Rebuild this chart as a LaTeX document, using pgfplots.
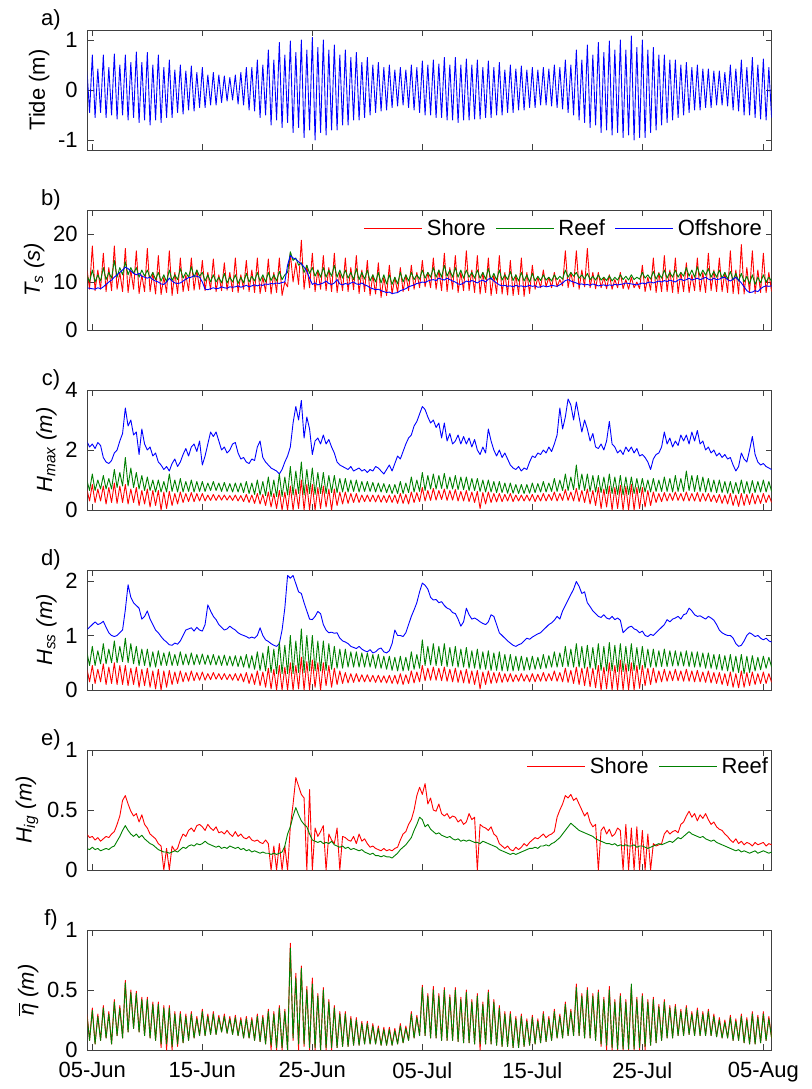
\documentclass[border=0pt]{standalone}
\usepackage{fontspec}
\setmainfont{Liberation Sans}
\usepackage{pgfplots}
\usepackage{pgfplotstable}
\pgfplotsset{compat=1.18}
\definecolor{mred}{rgb}{1,0,0}
\definecolor{mgreen}{rgb}{0,0.5,0}
\definecolor{mblue}{rgb}{0,0,1}
\newcommand{\fs}{\fontsize{11}{13}\selectfont}

% tide (m), 4 samples per day, t in days from 05-Jun
\pgfplotstableread[row sep=\\]{t y\\
-0.5 0.45\\ -0.25 -0.45\\
0 0.7\\ 0.25 -0.55\\ 0.5 0.42\\ 0.75 -0.45\\
1 0.7\\ 1.25 -0.55\\ 1.5 0.45\\ 1.75 -0.5\\
2 0.72\\ 2.25 -0.58\\ 2.5 0.5\\ 2.75 -0.5\\
3 0.7\\ 3.25 -0.6\\ 3.5 0.55\\ 3.75 -0.55\\
4 0.76\\ 4.25 -0.65\\ 4.5 0.55\\ 4.75 -0.6\\
5 0.75\\ 5.25 -0.7\\ 5.5 0.5\\ 5.75 -0.6\\
6 0.7\\ 6.25 -0.65\\ 6.5 0.45\\ 6.75 -0.55\\
7 0.6\\ 7.25 -0.55\\ 7.5 0.4\\ 7.75 -0.45\\
8 0.5\\ 8.25 -0.48\\ 8.5 0.38\\ 8.75 -0.4\\
9 0.48\\ 9.25 -0.42\\ 9.5 0.35\\ 9.75 -0.35\\
10 0.45\\ 10.25 -0.35\\ 10.5 0.3\\ 10.75 -0.3\\
11 0.35\\ 11.25 -0.3\\ 11.5 0.3\\ 11.75 -0.25\\
12 0.28\\ 12.25 -0.22\\ 12.5 0.25\\ 12.75 -0.2\\
13 0.3\\ 13.25 -0.28\\ 13.5 0.35\\ 13.75 -0.3\\
14 0.45\\ 14.25 -0.4\\ 14.5 0.45\\ 14.75 -0.42\\
15 0.6\\ 15.25 -0.55\\ 15.5 0.5\\ 15.75 -0.5\\
16 0.8\\ 16.25 -0.7\\ 16.5 0.6\\ 16.75 -0.6\\
17 0.95\\ 17.25 -0.75\\ 17.5 0.7\\ 17.75 -0.65\\
18 0.98\\ 18.25 -0.85\\ 18.5 0.75\\ 18.75 -0.75\\
19 1.0\\ 19.25 -0.95\\ 19.5 0.8\\ 19.75 -0.8\\
20 1.05\\ 20.25 -1.0\\ 20.5 0.85\\ 20.75 -0.85\\
21 1.0\\ 21.25 -0.9\\ 21.5 0.8\\ 21.75 -0.8\\
22 0.9\\ 22.25 -0.8\\ 22.5 0.7\\ 22.75 -0.7\\
23 0.8\\ 23.25 -0.7\\ 23.5 0.65\\ 23.75 -0.6\\
24 0.75\\ 24.25 -0.6\\ 24.5 0.55\\ 24.75 -0.55\\
25 0.65\\ 25.25 -0.5\\ 25.5 0.5\\ 25.75 -0.45\\
26 0.55\\ 26.25 -0.42\\ 26.5 0.45\\ 26.75 -0.4\\
27 0.5\\ 27.25 -0.35\\ 27.5 0.4\\ 27.75 -0.32\\
28 0.45\\ 28.25 -0.3\\ 28.5 0.4\\ 28.75 -0.35\\
29 0.5\\ 29.25 -0.4\\ 29.5 0.45\\ 29.75 -0.45\\
30 0.58\\ 30.25 -0.5\\ 30.5 0.5\\ 30.75 -0.5\\
31 0.6\\ 31.25 -0.55\\ 31.5 0.52\\ 31.75 -0.55\\
32 0.65\\ 32.25 -0.6\\ 32.5 0.5\\ 32.75 -0.6\\
33 0.65\\ 33.25 -0.65\\ 33.5 0.5\\ 33.75 -0.6\\
34 0.62\\ 34.25 -0.6\\ 34.5 0.5\\ 34.75 -0.58\\
35 0.6\\ 35.25 -0.58\\ 35.5 0.45\\ 35.75 -0.55\\
36 0.58\\ 36.25 -0.55\\ 36.5 0.45\\ 36.75 -0.5\\
37 0.55\\ 37.25 -0.5\\ 37.5 0.4\\ 37.75 -0.45\\
38 0.5\\ 38.25 -0.45\\ 38.5 0.42\\ 38.75 -0.4\\
39 0.48\\ 39.25 -0.4\\ 39.5 0.4\\ 39.75 -0.35\\
40 0.45\\ 40.25 -0.35\\ 40.5 0.4\\ 40.75 -0.3\\
41 0.45\\ 41.25 -0.3\\ 41.5 0.42\\ 41.75 -0.32\\
42 0.5\\ 42.25 -0.35\\ 42.5 0.45\\ 42.75 -0.38\\
43 0.6\\ 43.25 -0.45\\ 43.5 0.5\\ 43.75 -0.5\\
44 0.8\\ 44.25 -0.6\\ 44.5 0.6\\ 44.75 -0.65\\
45 0.9\\ 45.25 -0.75\\ 45.5 0.7\\ 45.75 -0.7\\
46 0.95\\ 46.25 -0.85\\ 46.5 0.75\\ 46.75 -0.8\\
47 0.98\\ 47.25 -0.9\\ 47.5 0.8\\ 47.75 -0.85\\
48 1.0\\ 48.25 -0.95\\ 48.5 0.8\\ 48.75 -0.9\\
49 1.08\\ 49.25 -1.0\\ 49.5 0.85\\ 49.75 -0.95\\
50 1.0\\ 50.25 -0.95\\ 50.5 0.8\\ 50.75 -0.85\\
51 0.85\\ 51.25 -0.8\\ 51.5 0.7\\ 51.75 -0.7\\
52 0.7\\ 52.25 -0.65\\ 52.5 0.6\\ 52.75 -0.6\\
53 0.6\\ 53.25 -0.55\\ 53.5 0.5\\ 53.75 -0.5\\
54 0.55\\ 54.25 -0.45\\ 54.5 0.45\\ 54.75 -0.4\\
55 0.5\\ 55.25 -0.4\\ 55.5 0.42\\ 55.75 -0.35\\
56 0.42\\ 56.25 -0.35\\ 56.5 0.38\\ 56.75 -0.3\\
57 0.38\\ 57.25 -0.3\\ 57.5 0.35\\ 57.75 -0.32\\
58 0.5\\ 58.25 -0.4\\ 58.5 0.42\\ 58.75 -0.42\\
59 0.6\\ 59.25 -0.5\\ 59.5 0.45\\ 59.75 -0.5\\
60 0.65\\ 60.25 -0.55\\ 60.5 0.5\\ 60.75 -0.58\\
61 0.62\\ 61.25 -0.6\\ 61.5 0.45\\ 61.75 -0.55\\
}\tabA

% Ts (s): shore, reef, offshore
\pgfplotstableread[row sep=\\]{t S R O\\
-0.5 13 11.5 8.8\\ -0.25 8.5 10 8.7\\
0 17.5 12.5 8.6\\ 0.25 8.2 10 8.5\\ 0.5 12.5 11.5 8.8\\ 0.75 8.5 10.2 8.6\\
1 16 13 9.0\\ 1.25 8 10.5 9.5\\ 1.5 13 12 10.0\\ 1.75 8.2 10.8 10.4\\
2 17.5 14.5 11.0\\ 2.25 8.5 11 11.5\\ 2.5 12 13 12.0\\ 2.75 8 11.5 12.5\\
3 17 14.2 13.1\\ 3.25 7.8 11.5 12.8\\ 3.5 12.5 13 12.3\\ 3.75 8.5 11.8 11.8\\
4 16.5 13 11.5\\ 4.25 7.6 11 11.8\\ 4.5 11.5 12.5 11.2\\ 4.75 8 11.2 11.0\\
5 17 12.5 10.8\\ 5.25 8 10.8 11.0\\ 5.5 12 12 10.5\\ 5.75 7.5 10.5 10.2\\
6 15.5 12 10.0\\ 6.25 7.4 10.2 9.6\\ 6.5 11 11.5 9.5\\ 6.75 7.8 10 10.0\\
7 16.5 12.5 10.8\\ 7.25 7.2 10.3 10.2\\ 7.5 12 11.5 9.8\\ 7.75 7.6 10.5 9.7\\
8 15 12.8 9.8\\ 8.25 8 10.8 10.2\\ 8.5 11.5 12 10.6\\ 8.75 8.2 11 10.9\\
9 15 13.2 11.0\\ 9.25 8.3 11 11.3\\ 9.5 12.5 12.5 11.2\\ 9.75 8.5 11.2 11.0\\
10 14.5 12 10.0\\ 10.25 8.2 10.2 8.5\\ 10.5 12 11.5 8.4\\ 10.75 8.4 10 8.6\\
11 14.8 11.5 8.8\\ 11.25 8 10 8.6\\ 11.5 11.5 11 8.7\\ 11.75 8.2 9.8 9.0\\
12 14 11.8 8.8\\ 12.25 8.3 9.8 8.7\\ 12.5 12 11 9.0\\ 12.75 8 10 8.9\\
13 15 11.5 9.0\\ 13.25 7.8 9.7 9.2\\ 13.5 11.5 11 8.9\\ 13.75 8.5 9.8 9.1\\
14 14.5 11.8 9.3\\ 14.25 8 10 9.0\\ 14.5 12.5 11.2 9.2\\ 14.75 7.8 10.2 9.4\\
15 15 12 9.2\\ 15.25 7.6 10.2 9.4\\ 15.5 11 11.5 9.3\\ 15.75 8 10 9.6\\
16 14.8 12 9.5\\ 16.25 7.5 10.3 9.7\\ 16.5 12 11.5 9.6\\ 16.75 7.8 10.2 9.8\\
17 15 12.2 9.7\\ 17.25 7.2 10.5 9.9\\ 17.5 10 11.5 10.0\\ 17.75 9 12 13.5\\
18 16 16.3 15.5\\ 18.25 10 14.5 15.0\\ 18.5 14 15 14.8\\ 18.75 9.5 13.5 14.2\\
19 18.7 14 13.8\\ 19.25 8.5 12 13.1\\ 19.5 13.5 13.5 12.2\\ 19.75 8.8 11.8 10.8\\
20 16 13 9.5\\ 20.25 8 11.2 9.8\\ 20.5 12.5 12.5 9.4\\ 20.75 8.5 11 9.6\\
21 15.5 13 9.8\\ 21.25 8.2 11 10.2\\ 21.5 13 12.5 9.7\\ 21.75 8 11.2 9.5\\
22 16 13.5 9.8\\ 22.25 7.8 11 10.5\\ 22.5 12 12.5 9.6\\ 22.75 8.2 10.8 9.4\\
23 15 12.5 9.7\\ 23.25 8 10.8 9.5\\ 23.5 13 12 9.8\\ 23.75 8.4 10.5 10.0\\
24 15.5 12.8 9.6\\ 24.25 7.6 10.5 9.5\\ 24.5 12.5 12 9.8\\ 24.75 8 10.6 9.4\\
25 14.5 12.5 9.2\\ 25.25 7.2 10.2 8.8\\ 25.5 11.5 11.5 8.6\\ 25.75 7.5 10 8.4\\
26 14 12 8.5\\ 26.25 6.8 9.8 8.2\\ 26.5 11 11.5 8.0\\ 26.75 7.2 9.6 7.8\\
27 13.5 11.5 7.9\\ 27.25 7.5 9.5 7.6\\ 27.5 11 11 7.7\\ 27.75 7.8 9.6 7.8\\
28 13 12 8.2\\ 28.25 8 10 8.4\\ 28.5 11.5 11.5 8.6\\ 28.75 8.2 10.2 9.0\\
29 13.5 12 9.2\\ 29.25 8.5 10.5 9.4\\ 29.5 12 11.5 9.7\\ 29.75 8.8 10.6 9.8\\
30 14.5 12.5 10.0\\ 30.25 9 10.8 9.9\\ 30.5 12 12 10.2\\ 30.75 8.8 11 10.4\\
31 15 13 10.5\\ 31.25 8.5 11 10.3\\ 31.5 12.5 12.5 10.8\\ 31.75 8.2 11 10.6\\
32 16 13.5 10.4\\ 32.25 8 11.2 10.8\\ 32.5 13 12.5 10.5\\ 32.75 8.5 11 10.2\\
33 15.5 13 10.0\\ 33.25 7.8 11 9.6\\ 33.5 12 12.5 9.5\\ 33.75 8.2 10.8 9.8\\
34 16.5 12.5 10.2\\ 34.25 8.2 11 10.0\\ 34.5 12.5 12 10.3\\ 34.75 7.8 10.8 10.1\\
35 15.5 12.5 9.8\\ 35.25 7.5 10.8 10.2\\ 35.5 12 12 10.4\\ 35.75 7.8 10.6 10.0\\
36 15 12.8 10.6\\ 36.25 7.2 10.5 10.8\\ 36.5 11.5 11.8 10.2\\ 36.75 7.6 10.4 9.8\\
37 15.5 12.5 9.4\\ 37.25 7.5 10.4 9.2\\ 37.5 12 11.5 9.3\\ 37.75 7.3 10.5 9.1\\
38 14.5 12.2 9.2\\ 38.25 7.2 10.3 9.0\\ 38.5 11.5 11.5 9.3\\ 38.75 7.4 10.2 9.1\\
39 15 12 9.2\\ 39.25 7 10.2 9.0\\ 39.5 12 11.5 9.1\\ 39.75 7.6 10 9.3\\
40 13.5 11.8 9.1\\ 40.25 8.5 10.2 9.2\\ 40.5 11 11.2 8.9\\ 40.75 8.8 10.3 9.0\\
41 12.5 11.5 9.2\\ 41.25 9 10.4 9.0\\ 41.5 11 11 9.1\\ 41.75 8.8 10.2 9.3\\
42 12 11.5 9.2\\ 42.25 9 10.5 9.1\\ 42.5 10.5 11.2 9.4\\ 42.75 9.2 10.6 9.8\\
43 16.5 12.5 10.3\\ 43.25 8.8 11 10.5\\ 43.5 12 12 10.2\\ 43.75 9 11.2 10.0\\
44 16.5 12 9.8\\ 44.25 8.5 10.8 9.5\\ 44.5 12.5 11.5 9.6\\ 44.75 9 10.6 9.4\\
45 17 11.8 9.5\\ 45.25 8.8 10.5 9.3\\ 45.5 12 11.2 9.6\\ 45.75 8.6 10.4 9.4\\
46 12 11.5 9.2\\ 46.25 8.8 10.4 9.3\\ 46.5 11 11 9.4\\ 46.75 8.6 10.3 9.2\\
47 11.5 11.3 9.4\\ 47.25 8.5 10.2 9.3\\ 47.5 10.5 11 9.5\\ 47.75 8.8 10.4 9.4\\
48 12 11.5 9.5\\ 48.25 8.6 10.5 9.6\\ 48.5 10.5 11.2 9.8\\ 48.75 8.5 10.4 9.7\\
49 11 11.5 9.6\\ 49.25 8.8 10.5 9.5\\ 49.5 10 11 9.4\\ 49.75 8.6 10.6 9.6\\
50 13.5 12 9.8\\ 50.25 8 10.8 9.6\\ 50.5 11 11.5 9.9\\ 50.75 8.3 10.6 10.0\\
51 15 12.2 9.8\\ 51.25 7.8 10.6 10.0\\ 51.5 12 11.8 10.2\\ 51.75 8 10.8 10.0\\
52 15.5 12.5 10.3\\ 52.25 8 10.8 10.1\\ 52.5 12.5 12 10.4\\ 52.75 7.8 11 10.2\\
53 15 12.5 10.0\\ 53.25 7.6 11 10.4\\ 53.5 12 12 10.6\\ 53.75 8 11.2 10.3\\
54 14 13 10.5\\ 54.25 7.8 11.2 10.8\\ 54.5 11.5 12.5 10.4\\ 54.75 8.2 11 10.6\\
55 15 13.2 10.8\\ 55.25 8 11.2 10.5\\ 55.5 12 12.5 10.7\\ 55.75 7.8 11.4 11.0\\
56 16 12.8 10.6\\ 56.25 8.2 11 10.4\\ 56.5 12.5 12.2 10.8\\ 56.75 8 11 10.5\\
57 15 12.5 10.6\\ 57.25 8 10.8 10.9\\ 57.5 12 12 11.0\\ 57.75 7.8 10.6 10.5\\
58 16.5 12.2 10.2\\ 58.25 7.6 10.4 10.6\\ 58.5 12.5 11.8 11.0\\ 58.75 7.5 10.2 10.4\\
59 17.8 11.8 9.8\\ 59.25 7.5 10 9.0\\ 59.5 13 11.2 8.2\\ 59.75 7.8 9.6 7.8\\
60 16.5 11.5 7.9\\ 60.25 7.6 9.5 8.2\\ 60.5 12.5 11 8.0\\ 60.75 7.8 9.8 8.6\\
61 16 11.5 9.0\\ 61.25 7.8 10 9.2\\ 61.5 12 11 9.1\\ 61.75 8 10.2 9.2\\
}\tabB

% Hmax (m): shore, reef, offshore
\pgfplotstableread[row sep=\\]{t S R O\\
-0.5 0.7 1.0 2.3\\ -0.25 0.3 0.65 2.1\\
0 0.85 1.2 2.2\\ 0.25 0.25 0.65 2.05\\ 0.5 0.7 1.0 2.25\\ 0.75 0.3 0.7 2.15\\
1 0.8 1.15 1.75\\ 1.25 0.2 0.7 1.6\\ 1.5 0.75 1.05 1.55\\ 1.75 0.25 0.7 1.65\\
2 0.9 1.35 1.9\\ 2.25 0.22 0.75 2.0\\ 2.5 0.8 1.25 2.3\\ 2.75 0.25 0.8 2.55\\
3 0.85 1.75 3.4\\ 3.25 0.2 0.8 2.8\\ 3.5 0.7 1.4 3.0\\ 3.75 0.25 0.75 2.5\\
4 0.75 1.25 2.6\\ 4.25 0.15 0.7 1.85\\ 4.5 0.65 1.15 2.7\\ 4.75 0.2 0.65 2.2\\
5 0.7 1.1 2.0\\ 5.25 0.1 0.65 2.1\\ 5.5 0.65 1.0 1.8\\ 5.75 0.15 0.6 1.9\\
6 0.65 1.0 1.6\\ 6.25 0 0.6 1.5\\ 6.5 0.6 0.95 1.35\\ 6.75 0.05 0.6 1.45\\
7 0.62 1.2 1.3\\ 7.25 0.15 0.62 1.55\\ 7.5 0.55 1.0 1.7\\ 7.75 0.2 0.6 1.45\\
8 0.6 1.05 1.6\\ 8.25 0.25 0.6 1.85\\ 8.5 0.55 0.95 2.05\\ 8.75 0.28 0.62 1.8\\
9 0.58 1.0 2.1\\ 9.25 0.28 0.6 2.2\\ 9.5 0.55 0.95 1.95\\ 9.75 0.3 0.62 2.3\\
10 0.55 0.95 1.5\\ 10.25 0.3 0.62 1.8\\ 10.5 0.5 0.9 2.2\\ 10.75 0.32 0.65 2.6\\
11 0.52 0.95 2.45\\ 11.25 0.32 0.65 2.6\\ 11.5 0.5 0.9 2.3\\ 11.75 0.33 0.62 2.0\\
12 0.5 0.92 2.1\\ 12.25 0.33 0.62 1.9\\ 12.5 0.48 0.88 2.0\\ 12.75 0.32 0.6 2.2\\
13 0.5 0.9 2.25\\ 13.25 0.3 0.6 1.9\\ 13.5 0.48 0.9 1.7\\ 13.75 0.28 0.58 1.75\\
14 0.52 0.95 1.6\\ 14.25 0.25 0.55 1.55\\ 14.5 0.5 0.9 1.7\\ 14.75 0.22 0.52 1.65\\
15 0.55 1.0 2.1\\ 15.25 0.2 0.5 2.3\\ 15.5 0.52 0.95 1.75\\ 15.75 0.15 0.48 1.6\\
16 0.6 1.1 1.5\\ 16.25 0.1 0.45 1.4\\ 16.5 0.55 1.0 1.35\\ 16.75 0.05 0.45 1.3\\
17 0.65 1.2 1.2\\ 17.25 0 0.45 1.35\\ 17.5 0.6 1.1 1.6\\ 17.75 0 0.5 1.8\\
18 0.8 1.45 2.1\\ 18.25 0 0.5 2.9\\ 18.5 0.7 1.3 3.45\\ 18.75 0.05 0.55 3.0\\
19 1.0 1.6 3.65\\ 19.25 0 0.5 2.4\\ 19.5 0.85 1.35 3.1\\ 19.75 0 0.55 2.7\\
20 0.85 1.4 1.85\\ 20.25 0 0.52 2.3\\ 20.5 0.75 1.25 2.4\\ 20.75 0.05 0.55 2.2\\
21 0.8 1.25 2.5\\ 21.25 0.1 0.55 2.2\\ 21.5 0.7 1.15 2.35\\ 21.75 0 0.58 2.1\\
22 0.7 1.15 1.9\\ 22.25 0.15 0.58 1.6\\ 22.5 0.6 1.05 1.5\\ 22.75 0.2 0.6 1.45\\
23 0.6 1.05 1.4\\ 23.25 0.22 0.6 1.35\\ 23.5 0.55 1.0 1.45\\ 23.75 0.25 0.62 1.3\\
24 0.55 1.0 1.35\\ 24.25 0.25 0.6 1.4\\ 24.5 0.5 0.95 1.3\\ 24.75 0.28 0.62 1.35\\
25 0.5 0.95 1.25\\ 25.25 0.28 0.62 1.35\\ 25.5 0.5 0.92 1.3\\ 25.75 0.27 0.6 1.45\\
26 0.5 0.9 1.4\\ 26.25 0.26 0.6 1.3\\ 26.5 0.48 0.88 1.2\\ 26.75 0.25 0.58 1.35\\
27 0.5 0.85 1.5\\ 27.25 0.25 0.55 1.3\\ 27.5 0.5 0.85 1.55\\ 27.75 0.22 0.55 1.8\\
28 0.55 0.95 1.7\\ 28.25 0.22 0.55 1.95\\ 28.5 0.52 0.9 2.2\\ 28.75 0.2 0.58 2.4\\
29 0.6 1.1 2.5\\ 29.25 0.25 0.6 2.8\\ 29.5 0.58 1.0 2.95\\ 29.75 0.28 0.62 3.2\\
30 0.75 1.25 3.45\\ 30.25 0.3 0.65 3.35\\ 30.5 0.65 1.15 3.1\\ 30.75 0.32 0.7 2.9\\
31 0.72 1.2 3.0\\ 31.25 0.33 0.7 2.75\\ 31.5 0.65 1.15 2.9\\ 31.75 0.35 0.72 2.4\\
32 0.7 1.22 2.9\\ 32.25 0.32 0.7 2.3\\ 32.5 0.65 1.1 2.55\\ 32.75 0.33 0.7 2.2\\
33 0.68 1.15 2.3\\ 33.25 0.3 0.68 2.5\\ 33.5 0.62 1.1 2.2\\ 33.75 0.3 0.68 2.45\\
34 0.65 1.1 2.2\\ 34.25 0.28 0.65 2.4\\ 34.5 0.6 1.05 2.1\\ 34.75 0.25 0.65 2.35\\
35 0.62 1.05 2.0\\ 35.25 0.05 0.62 1.85\\ 35.5 0.58 1.0 2.1\\ 35.75 0.2 0.6 1.9\\
36 0.6 1.0 2.7\\ 36.25 0.25 0.6 2.3\\ 36.5 0.55 0.95 2.0\\ 36.75 0.27 0.58 1.8\\
37 0.55 0.95 2.0\\ 37.25 0.28 0.58 1.75\\ 37.5 0.52 0.9 1.9\\ 37.75 0.3 0.56 1.7\\
38 0.55 0.9 1.5\\ 38.25 0.28 0.56 1.4\\ 38.5 0.5 0.85 1.35\\ 38.75 0.3 0.55 1.45\\
39 0.5 0.85 1.3\\ 39.25 0.3 0.55 1.4\\ 39.5 0.5 0.85 1.35\\ 39.75 0.3 0.56 1.6\\
40 0.52 0.9 1.8\\ 40.25 0.28 0.58 1.75\\ 40.5 0.5 0.88 1.9\\ 40.75 0.3 0.6 1.85\\
41 0.55 0.95 2.0\\ 41.25 0.3 0.6 1.9\\ 41.5 0.52 0.9 2.1\\ 41.75 0.32 0.62 1.95\\
42 0.6 1.05 2.2\\ 42.25 0.3 0.62 2.5\\ 42.5 0.55 1.0 3.4\\ 42.75 0.32 0.65 2.7\\
43 0.68 1.2 3.1\\ 43.25 0.32 0.65 3.7\\ 43.5 0.6 1.1 3.5\\ 43.75 0.3 0.68 3.0\\
44 0.72 1.5 3.6\\ 44.25 0.28 0.68 3.1\\ 44.5 0.65 1.2 2.6\\ 44.75 0.25 0.65 3.0\\
45 0.7 1.2 2.7\\ 45.25 0.2 0.62 2.3\\ 45.5 0.65 1.15 2.55\\ 45.75 0.15 0.6 2.1\\
46 0.75 1.15 2.05\\ 46.25 0.05 0.58 2.2\\ 46.5 0.7 1.1 2.0\\ 46.75 0.1 0.55 2.3\\
47 0.8 1.2 2.95\\ 47.25 0 0.55 2.2\\ 47.5 0.75 1.1 2.1\\ 47.75 0.05 0.52 1.9\\
48 0.82 1.15 2.0\\ 48.25 0 0.5 1.85\\ 48.5 0.78 1.1 2.1\\ 48.75 0 0.52 1.95\\
49 0.85 1.1 2.1\\ 49.25 0 0.55 1.9\\ 49.5 0.75 1.05 2.05\\ 49.75 0.05 0.58 1.8\\
50 0.75 1.05 1.85\\ 50.25 0.1 0.6 1.75\\ 50.5 0.65 1.0 1.6\\ 50.75 0.15 0.6 1.35\\
51 0.6 1.05 1.7\\ 51.25 0.25 0.62 1.85\\ 51.5 0.55 1.0 1.9\\ 51.75 0.28 0.62 2.1\\
52 0.58 1.1 2.6\\ 52.25 0.3 0.62 2.2\\ 52.5 0.55 1.05 2.4\\ 52.75 0.32 0.6 2.1\\
53 0.6 1.15 2.3\\ 53.25 0.32 0.62 2.15\\ 53.5 0.55 1.05 2.5\\ 53.75 0.3 0.62 2.3\\
54 0.6 1.3 2.5\\ 54.25 0.3 0.65 2.2\\ 54.5 0.55 1.15 2.6\\ 54.75 0.3 0.62 2.3\\
55 0.58 1.15 2.65\\ 55.25 0.28 0.62 2.2\\ 55.5 0.55 1.1 2.3\\ 55.75 0.3 0.6 2.0\\
56 0.55 1.05 2.1\\ 56.25 0.28 0.6 1.9\\ 56.5 0.5 1.0 2.0\\ 56.75 0.25 0.58 1.8\\
57 0.52 1.0 1.9\\ 57.25 0.22 0.58 1.75\\ 57.5 0.5 0.95 1.85\\ 57.75 0.2 0.56 1.7\\
58 0.55 0.95 1.75\\ 58.25 0.15 0.55 1.5\\ 58.5 0.5 0.92 1.3\\ 58.75 0.12 0.55 1.45\\
59 0.55 1.0 1.9\\ 59.25 0.15 0.55 1.7\\ 59.5 0.52 0.95 1.6\\ 59.75 0.18 0.56 2.0\\
60 0.55 0.98 2.45\\ 60.25 0.2 0.58 1.85\\ 60.5 0.5 0.95 1.6\\ 60.75 0.22 0.6 1.5\\
61 0.55 1.0 1.55\\ 61.25 0.25 0.6 1.45\\ 61.5 0.5 0.95 1.4\\ 61.75 0.25 0.62 1.35\\
}\tabC

% Hss (m): shore, reef, offshore
\pgfplotstableread[row sep=\\]{t S R O\\
-0.5 0.4 0.7 1.1\\ -0.25 0.15 0.45 1.15\\
0 0.45 0.8 1.2\\ 0.25 0.12 0.45 1.25\\ 0.5 0.38 0.72 1.2\\ 0.75 0.15 0.48 1.22\\
1 0.48 0.85 1.26\\ 1.25 0.1 0.48 1.15\\ 1.5 0.42 0.75 1.05\\ 1.75 0.12 0.5 1.0\\
2 0.5 0.9 0.98\\ 2.25 0.1 0.5 1.0\\ 2.5 0.45 0.8 1.05\\ 2.75 0.1 0.52 1.1\\
3 0.45 0.95 1.47\\ 3.25 0.08 0.5 1.93\\ 3.5 0.4 0.85 1.7\\ 3.75 0.1 0.48 1.6\\
4 0.42 0.8 1.55\\ 4.25 0.05 0.45 1.5\\ 4.5 0.38 0.75 1.3\\ 4.75 0.08 0.45 1.35\\
5 0.4 0.75 1.45\\ 5.25 0.05 0.42 1.3\\ 5.5 0.35 0.7 1.2\\ 5.75 0.02 0.42 1.1\\
6 0.38 0.72 1.05\\ 6.25 0 0.45 0.98\\ 6.5 0.35 0.68 0.92\\ 6.75 0.05 0.45 0.88\\
7 0.36 0.7 0.83\\ 7.25 0.1 0.45 0.82\\ 7.5 0.33 0.65 0.86\\ 7.75 0.12 0.45 0.84\\
8 0.35 0.7 0.9\\ 8.25 0.15 0.46 1.0\\ 8.5 0.32 0.66 1.1\\ 8.75 0.16 0.46 1.12\\
9 0.35 0.68 1.14\\ 9.25 0.17 0.46 1.08\\ 9.5 0.32 0.65 1.15\\ 9.75 0.18 0.47 1.1\\
10 0.33 0.66 1.08\\ 10.25 0.18 0.47 1.2\\ 10.5 0.3 0.64 1.56\\ 10.75 0.19 0.46 1.45\\
11 0.32 0.65 1.35\\ 11.25 0.2 0.46 1.29\\ 11.5 0.3 0.63 1.2\\ 11.75 0.19 0.45 1.15\\
12 0.3 0.64 1.1\\ 12.25 0.19 0.45 1.12\\ 12.5 0.29 0.62 1.17\\ 12.75 0.18 0.44 1.13\\
13 0.3 0.63 1.1\\ 13.25 0.17 0.43 1.05\\ 13.5 0.3 0.62 1.02\\ 13.75 0.15 0.42 1.0\\
14 0.32 0.65 0.98\\ 14.25 0.12 0.4 0.95\\ 14.5 0.3 0.63 0.97\\ 14.75 0.1 0.38 0.95\\
15 0.35 0.7 1.0\\ 15.25 0.08 0.36 1.14\\ 15.5 0.33 0.68 1.0\\ 15.75 0.05 0.35 0.92\\
16 0.4 0.8 0.89\\ 16.25 0.02 0.32 0.85\\ 16.5 0.38 0.75 0.82\\ 16.75 0 0.3 0.8\\
17 0.45 0.88 0.85\\ 17.25 0 0.3 1.1\\ 17.5 0.42 0.82 1.5\\ 17.75 0 0.3 2.1\\
18 0.5 1.0 2.05\\ 18.25 0 0.3 2.1\\ 18.5 0.45 0.9 1.95\\ 18.75 0.02 0.32 1.8\\
19 0.6 1.12 1.77\\ 19.25 0 0.32 1.6\\ 19.5 0.52 1.0 1.45\\ 19.75 0 0.35 1.3\\
20 0.55 1.0 1.29\\ 20.25 0.05 0.35 1.35\\ 20.5 0.5 0.9 1.44\\ 20.75 0 0.35 1.4\\
21 0.5 0.9 1.2\\ 21.25 0.08 0.36 1.1\\ 21.5 0.45 0.85 1.05\\ 21.75 0.05 0.38 1.06\\
22 0.4 0.8 1.04\\ 22.25 0.1 0.4 1.05\\ 22.5 0.35 0.75 0.95\\ 22.75 0.12 0.4 0.9\\
23 0.32 0.75 0.88\\ 23.25 0.13 0.42 0.85\\ 23.5 0.3 0.7 0.8\\ 23.75 0.14 0.42 0.78\\
24 0.3 0.7 0.76\\ 24.25 0.15 0.42 0.8\\ 24.5 0.28 0.68 0.75\\ 24.75 0.15 0.42 0.72\\
25 0.28 0.68 0.7\\ 25.25 0.15 0.42 0.74\\ 25.5 0.27 0.65 0.68\\ 25.75 0.14 0.4 0.7\\
26 0.27 0.65 0.75\\ 26.25 0.14 0.4 0.77\\ 26.5 0.26 0.62 0.7\\ 26.75 0.13 0.38 0.68\\
27 0.27 0.62 0.72\\ 27.25 0.12 0.36 0.85\\ 27.5 0.27 0.6 1.1\\ 27.75 0.11 0.35 1.0\\
28 0.3 0.62 1.0\\ 28.25 0.1 0.35 0.98\\ 28.5 0.28 0.6 1.05\\ 28.75 0.12 0.36 1.2\\
29 0.35 0.7 1.35\\ 29.25 0.13 0.38 1.47\\ 29.5 0.33 0.65 1.6\\ 29.75 0.15 0.4 1.8\\
30 0.45 0.92 1.96\\ 30.25 0.17 0.45 1.92\\ 30.5 0.4 0.8 1.85\\ 30.75 0.18 0.46 1.7\\
31 0.42 0.85 1.65\\ 31.25 0.18 0.45 1.66\\ 31.5 0.4 0.8 1.6\\ 31.75 0.17 0.45 1.62\\
32 0.42 0.85 1.55\\ 32.25 0.16 0.43 1.5\\ 32.5 0.38 0.78 1.48\\ 32.75 0.15 0.44 1.42\\
33 0.4 0.8 1.4\\ 33.25 0.14 0.42 1.3\\ 33.5 0.36 0.75 1.17\\ 33.75 0.13 0.42 1.25\\
34 0.38 0.78 1.5\\ 34.25 0.12 0.4 1.38\\ 34.5 0.35 0.72 1.3\\ 34.75 0.1 0.4 1.32\\
35 0.36 0.75 1.29\\ 35.25 0.02 0.38 1.25\\ 35.5 0.33 0.7 1.22\\ 35.75 0.1 0.38 1.2\\
36 0.35 0.72 1.25\\ 36.25 0.12 0.36 1.38\\ 36.5 0.32 0.68 1.35\\ 36.75 0.13 0.36 1.2\\
37 0.32 0.7 1.05\\ 37.25 0.14 0.35 1.0\\ 37.5 0.3 0.65 0.95\\ 37.75 0.15 0.35 0.9\\
38 0.3 0.65 0.86\\ 38.25 0.15 0.35 0.82\\ 38.5 0.28 0.62 0.8\\ 38.75 0.16 0.36 0.83\\
39 0.3 0.62 0.85\\ 39.25 0.16 0.36 0.9\\ 39.5 0.28 0.6 0.95\\ 39.75 0.15 0.37 0.93\\
40 0.3 0.62 0.97\\ 40.25 0.15 0.38 1.0\\ 40.5 0.29 0.6 1.03\\ 40.75 0.16 0.39 1.05\\
41 0.32 0.65 1.1\\ 41.25 0.16 0.4 1.15\\ 41.5 0.3 0.63 1.2\\ 41.75 0.17 0.42 1.23\\
42 0.35 0.7 1.28\\ 42.25 0.16 0.42 1.35\\ 42.5 0.32 0.68 1.3\\ 42.75 0.15 0.43 1.45\\
43 0.4 0.8 1.55\\ 43.25 0.14 0.43 1.65\\ 43.5 0.36 0.75 1.75\\ 43.75 0.12 0.42 1.85\\
44 0.42 0.85 1.99\\ 44.25 0.1 0.42 1.9\\ 44.5 0.4 0.8 1.77\\ 44.75 0.08 0.4 1.8\\
45 0.42 0.82 1.6\\ 45.25 0.06 0.4 1.53\\ 45.5 0.4 0.78 1.45\\ 45.75 0.04 0.38 1.4\\
46 0.45 0.85 1.35\\ 46.25 0 0.36 1.33\\ 46.5 0.42 0.8 1.38\\ 46.75 0.02 0.35 1.32\\
47 0.5 0.87 1.3\\ 47.25 0 0.35 1.35\\ 47.5 0.45 0.82 1.29\\ 47.75 0 0.34 1.32\\
48 0.55 0.85 1.28\\ 48.25 0 0.34 1.05\\ 48.5 0.48 0.8 1.1\\ 48.75 0 0.35 1.15\\
49 0.5 0.85 1.17\\ 49.25 0 0.36 1.12\\ 49.5 0.45 0.78 1.1\\ 49.75 0.03 0.38 1.05\\
50 0.45 0.8 1.08\\ 50.25 0.08 0.4 1.0\\ 50.5 0.4 0.75 0.98\\ 50.75 0.1 0.42 1.02\\
51 0.4 0.75 1.0\\ 51.25 0.13 0.42 1.05\\ 51.5 0.35 0.72 1.1\\ 51.75 0.15 0.43 1.15\\
52 0.38 0.75 1.2\\ 52.25 0.16 0.43 1.29\\ 52.5 0.35 0.72 1.25\\ 52.75 0.17 0.44 1.3\\
53 0.38 0.72 1.32\\ 53.25 0.17 0.44 1.35\\ 53.5 0.35 0.7 1.3\\ 53.75 0.16 0.44 1.38\\
54 0.38 0.72 1.4\\ 54.25 0.16 0.43 1.5\\ 54.5 0.35 0.7 1.45\\ 54.75 0.15 0.42 1.38\\
55 0.36 0.7 1.35\\ 55.25 0.15 0.42 1.36\\ 55.5 0.33 0.68 1.33\\ 55.75 0.14 0.4 1.3\\
56 0.35 0.68 1.35\\ 56.25 0.13 0.4 1.32\\ 56.5 0.32 0.65 1.28\\ 56.75 0.12 0.38 1.2\\
57 0.32 0.65 1.1\\ 57.25 0.1 0.36 1.05\\ 57.5 0.3 0.63 1.02\\ 57.75 0.08 0.35 1.0\\
58 0.33 0.65 1.0\\ 58.25 0.05 0.33 0.95\\ 58.5 0.3 0.62 0.85\\ 58.75 0.04 0.32 0.8\\
59 0.35 0.65 0.82\\ 59.25 0.05 0.3 0.9\\ 59.5 0.32 0.62 1.0\\ 59.75 0.08 0.32 1.05\\
60 0.33 0.63 1.02\\ 60.25 0.1 0.35 0.98\\ 60.5 0.3 0.6 1.0\\ 60.75 0.12 0.37 0.95\\
61 0.33 0.62 0.92\\ 61.25 0.12 0.4 0.95\\ 61.5 0.3 0.6 0.9\\ 61.75 0.14 0.42 0.88\\
}\tabD

% Hig (m): shore, reef
\pgfplotstableread[row sep=\\]{t S R\\
-0.5 0.3 0.18\\ -0.25 0.27 0.17\\
0 0.28 0.19\\ 0.25 0.25 0.17\\ 0.5 0.27 0.18\\ 0.75 0.24 0.16\\
1 0.26 0.17\\ 1.25 0.28 0.18\\ 1.5 0.27 0.17\\ 1.75 0.3 0.19\\
2 0.32 0.2\\ 2.25 0.38 0.24\\ 2.5 0.45 0.28\\ 2.75 0.58 0.33\\
3 0.62 0.37\\ 3.25 0.55 0.33\\ 3.5 0.49 0.3\\ 3.75 0.45 0.28\\
4 0.47 0.3\\ 4.25 0.4 0.27\\ 4.5 0.46 0.29\\ 4.75 0.38 0.26\\
5 0.35 0.24\\ 5.25 0.3 0.22\\ 5.5 0.28 0.21\\ 5.75 0.26 0.19\\
6 0.22 0.17\\ 6.25 0.2 0.16\\ 6.5 0 0.15\\ 6.75 0.18 0.15\\
7 0 0.14\\ 7.25 0.2 0.15\\ 7.5 0.16 0.16\\ 7.75 0.18 0.15\\
8 0.25 0.17\\ 8.25 0.3 0.19\\ 8.5 0.28 0.18\\ 8.75 0.33 0.2\\
9 0.35 0.21\\ 9.25 0.32 0.2\\ 9.5 0.37 0.22\\ 9.75 0.38 0.21\\
10 0.36 0.22\\ 10.25 0.33 0.24\\ 10.5 0.38 0.22\\ 10.75 0.35 0.21\\
11 0.33 0.2\\ 11.25 0.36 0.19\\ 11.5 0.31 0.2\\ 11.75 0.32 0.18\\
12 0.3 0.19\\ 12.25 0.33 0.18\\ 12.5 0.3 0.2\\ 12.75 0.28 0.19\\
13 0.32 0.18\\ 13.25 0.28 0.19\\ 13.5 0.3 0.17\\ 13.75 0.27 0.18\\
14 0.26 0.16\\ 14.25 0.28 0.17\\ 14.5 0.25 0.15\\ 14.75 0.24 0.16\\
15 0.25 0.15\\ 15.25 0.23 0.14\\ 15.5 0.22 0.15\\ 15.75 0.25 0.14\\
16 0.22 0.14\\ 16.25 0 0.13\\ 16.5 0.2 0.14\\ 16.75 0 0.13\\
17 0.22 0.14\\ 17.25 0 0.15\\ 17.5 0.2 0.2\\ 17.75 0 0.3\\
18 0.36 0.36\\ 18.25 0.55 0.45\\ 18.5 0.77 0.52\\ 18.75 0.7 0.46\\
19 0.63 0.41\\ 19.25 0.6 0.38\\ 19.5 0 0.36\\ 19.75 0.67 0.3\\
20 0 0.25\\ 20.25 0.35 0.24\\ 20.5 0.28 0.23\\ 20.75 0.32 0.24\\
21 0.37 0.22\\ 21.25 0 0.23\\ 21.5 0.3 0.22\\ 21.75 0.25 0.24\\
22 0.22 0.21\\ 22.25 0.35 0.2\\ 22.5 0 0.19\\ 22.75 0.28 0.2\\
23 0.27 0.18\\ 23.25 0.25 0.19\\ 23.5 0.24 0.17\\ 23.75 0.28 0.18\\
24 0.22 0.17\\ 24.25 0.3 0.16\\ 24.5 0.24 0.17\\ 24.75 0.26 0.15\\
25 0.22 0.14\\ 25.25 0.19 0.13\\ 25.5 0.2 0.14\\ 25.75 0.18 0.12\\
26 0.17 0.12\\ 26.25 0.16 0.11\\ 26.5 0.18 0.12\\ 26.75 0.16 0.11\\
27 0.17 0.11\\ 27.25 0.16 0.1\\ 27.5 0.18 0.12\\ 27.75 0.19 0.14\\
28 0.25 0.17\\ 28.25 0.3 0.19\\ 28.5 0.32 0.21\\ 28.75 0.38 0.24\\
29 0.42 0.27\\ 29.25 0.5 0.33\\ 29.5 0.62 0.38\\ 29.75 0.69 0.44\\
30 0.63 0.42\\ 30.25 0.72 0.36\\ 30.5 0.55 0.38\\ 30.75 0.6 0.34\\
31 0.5 0.32\\ 31.25 0.49 0.3\\ 31.5 0.55 0.31\\ 31.75 0.47 0.29\\
32 0.45 0.28\\ 32.25 0.47 0.27\\ 32.5 0.43 0.28\\ 32.75 0.45 0.26\\
33 0.44 0.25\\ 33.25 0.4 0.26\\ 33.5 0.42 0.24\\ 33.75 0.38 0.25\\
34 0.4 0.24\\ 34.25 0.47 0.25\\ 34.5 0.42 0.24\\ 34.75 0.44 0.23\\
35 0 0.23\\ 35.25 0.38 0.22\\ 35.5 0.36 0.24\\ 35.75 0.35 0.23\\
36 0.33 0.22\\ 36.25 0.36 0.21\\ 36.5 0.3 0.2\\ 36.75 0.28 0.19\\
37 0.22 0.17\\ 37.25 0.2 0.16\\ 37.5 0.18 0.15\\ 37.75 0.2 0.14\\
38 0.17 0.13\\ 38.25 0.16 0.14\\ 38.5 0.19 0.13\\ 38.75 0.17 0.14\\
39 0.19 0.15\\ 39.25 0.22 0.16\\ 39.5 0.2 0.17\\ 39.75 0.23 0.18\\
40 0.25 0.18\\ 40.25 0.27 0.19\\ 40.5 0.26 0.18\\ 40.75 0.28 0.2\\
41 0.3 0.2\\ 41.25 0.27 0.21\\ 41.5 0.29 0.2\\ 41.75 0.3 0.22\\
42 0.32 0.23\\ 42.25 0.44 0.25\\ 42.5 0.5 0.27\\ 42.75 0.55 0.3\\
43 0.62 0.33\\ 43.25 0.6 0.36\\ 43.5 0.63 0.39\\ 43.75 0.58 0.37\\
44 0.6 0.35\\ 44.25 0.55 0.33\\ 44.5 0.5 0.32\\ 44.75 0.45 0.31\\
45 0.48 0.3\\ 45.25 0.4 0.29\\ 45.5 0.36 0.28\\ 45.75 0.38 0.26\\
46 0 0.25\\ 46.25 0.33 0.24\\ 46.5 0.36 0.23\\ 46.75 0.3 0.22\\
47 0.34 0.22\\ 47.25 0.28 0.21\\ 47.5 0.3 0.22\\ 47.75 0.35 0.2\\
48 0.33 0.21\\ 48.25 0 0.2\\ 48.5 0.38 0.21\\ 48.75 0 0.2\\
49 0.35 0.2\\ 49.25 0 0.21\\ 49.5 0.36 0.19\\ 49.75 0 0.2\\
50 0.33 0.2\\ 50.25 0 0.19\\ 50.5 0.3 0.18\\ 50.75 0 0.19\\
51 0.22 0.2\\ 51.25 0.2 0.21\\ 51.5 0.21 0.22\\ 51.75 0.22 0.21\\
52 0.3 0.22\\ 52.25 0.33 0.23\\ 52.5 0.3 0.24\\ 52.75 0.32 0.23\\
53 0.33 0.25\\ 53.25 0.31 0.27\\ 53.5 0.38 0.26\\ 53.75 0.4 0.28\\
54 0.45 0.3\\ 54.25 0.49 0.32\\ 54.5 0.44 0.3\\ 54.75 0.47 0.29\\
55 0.41 0.28\\ 55.25 0.46 0.27\\ 55.5 0.43 0.28\\ 55.75 0.47 0.26\\
56 0.42 0.25\\ 56.25 0.38 0.24\\ 56.5 0.4 0.25\\ 56.75 0.36 0.23\\
57 0.34 0.22\\ 57.25 0.33 0.21\\ 57.5 0.3 0.2\\ 57.75 0.28 0.19\\
58 0.25 0.18\\ 58.25 0.23 0.17\\ 58.5 0.26 0.16\\ 58.75 0.22 0.17\\
59 0.24 0.15\\ 59.25 0.21 0.16\\ 59.5 0.23 0.15\\ 59.75 0.22 0.14\\
60 0.2 0.15\\ 60.25 0.23 0.16\\ 60.5 0.21 0.14\\ 60.75 0.22 0.15\\
61 0.23 0.16\\ 61.25 0.2 0.15\\ 61.5 0.22 0.14\\ 61.75 0.21 0.15\\
}\tabE

% mean water level eta (m): shore, reef
\pgfplotstableread[row sep=\\]{t S R\\
-0.5 0.32 0.3\\ -0.25 0.08 0.08\\
0 0.35 0.33\\ 0.25 0.05 0.05\\ 0.5 0.3 0.28\\ 0.75 0.08 0.08\\
1 0.37 0.35\\ 1.25 0.1 0.1\\ 1.5 0.32 0.3\\ 1.75 0.05 0.05\\
2 0.42 0.4\\ 2.25 0.12 0.12\\ 2.5 0.37 0.35\\ 2.75 0.1 0.1\\
3 0.58 0.56\\ 3.25 0.15 0.15\\ 3.5 0.5 0.48\\ 3.75 0.18 0.18\\
4 0.49 0.47\\ 4.25 0.15 0.15\\ 4.5 0.44 0.42\\ 4.75 0.12 0.12\\
5 0.44 0.42\\ 5.25 0.1 0.1\\ 5.5 0.4 0.38\\ 5.75 0.08 0.08\\
6 0.4 0.38\\ 6.25 0.02 0.05\\ 6.5 0.37 0.35\\ 6.75 0 0.05\\
7 0.37 0.35\\ 7.25 0 0.03\\ 7.5 0.32 0.3\\ 7.75 0.03 0.05\\
8 0.32 0.3\\ 8.25 0.06 0.06\\ 8.5 0.3 0.28\\ 8.75 0.08 0.08\\
9 0.32 0.3\\ 9.25 0.1 0.1\\ 9.5 0.28 0.26\\ 9.75 0.12 0.12\\
10 0.34 0.32\\ 10.25 0.12 0.12\\ 10.5 0.3 0.28\\ 10.75 0.13 0.13\\
11 0.32 0.3\\ 11.25 0.13 0.13\\ 11.5 0.29 0.27\\ 11.75 0.15 0.15\\
12 0.3 0.28\\ 12.25 0.14 0.14\\ 12.5 0.28 0.26\\ 12.75 0.13 0.13\\
13 0.29 0.27\\ 13.25 0.12 0.12\\ 13.5 0.27 0.25\\ 13.75 0.1 0.1\\
14 0.28 0.26\\ 14.25 0.1 0.1\\ 14.5 0.27 0.25\\ 14.75 0.08 0.08\\
15 0.3 0.28\\ 15.25 0.07 0.07\\ 15.5 0.29 0.27\\ 15.75 0.05 0.05\\
16 0.34 0.32\\ 16.25 0 0.04\\ 16.5 0.32 0.3\\ 16.75 0 0.02\\
17 0.37 0.35\\ 17.25 0 0.02\\ 17.5 0.34 0.32\\ 17.75 0 0\\
18 0.89 0.85\\ 18.25 0.08 0.1\\ 18.5 0.64 0.6\\ 18.75 0 0.05\\
19 0.7 0.68\\ 19.25 0.03 0.05\\ 19.5 0.53 0.5\\ 19.75 0 0.02\\
20 0.6 0.55\\ 20.25 0 0.02\\ 20.5 0.47 0.45\\ 20.75 0 0\\
21 0.52 0.5\\ 21.25 0 0.02\\ 21.5 0.42 0.4\\ 21.75 0 0.02\\
22 0.37 0.35\\ 22.25 0.02 0.02\\ 22.5 0.32 0.3\\ 22.75 0.03 0.03\\
23 0.32 0.3\\ 23.25 0.03 0.03\\ 23.5 0.28 0.26\\ 23.75 0.04 0.04\\
24 0.27 0.25\\ 24.25 0.04 0.04\\ 24.5 0.24 0.22\\ 24.75 0.05 0.05\\
25 0.24 0.22\\ 25.25 0.05 0.05\\ 25.5 0.22 0.2\\ 25.75 0.05 0.05\\
26 0.2 0.18\\ 26.25 0.04 0.04\\ 26.5 0.19 0.17\\ 26.75 0.04 0.04\\
27 0.19 0.17\\ 27.25 0.04 0.04\\ 27.5 0.18 0.16\\ 27.75 0.05 0.05\\
28 0.22 0.2\\ 28.25 0.06 0.06\\ 28.5 0.2 0.18\\ 28.75 0.08 0.08\\
29 0.32 0.3\\ 29.25 0.1 0.1\\ 29.5 0.29 0.27\\ 29.75 0.12 0.12\\
30 0.54 0.52\\ 30.25 0.12 0.12\\ 30.5 0.47 0.45\\ 30.75 0.1 0.1\\
31 0.53 0.5\\ 31.25 0.1 0.1\\ 31.5 0.47 0.45\\ 31.75 0.08 0.08\\
32 0.52 0.5\\ 32.25 0.08 0.08\\ 32.5 0.46 0.44\\ 32.75 0.08 0.08\\
33 0.52 0.5\\ 33.25 0.07 0.07\\ 33.5 0.44 0.42\\ 33.75 0.06 0.06\\
34 0.5 0.48\\ 34.25 0.06 0.06\\ 34.5 0.42 0.4\\ 34.75 0.05 0.05\\
35 0.47 0.45\\ 35.25 0 0.05\\ 35.5 0.4 0.38\\ 35.75 0.05 0.05\\
36 0.5 0.48\\ 36.25 0.05 0.05\\ 36.5 0.42 0.4\\ 36.75 0.04 0.04\\
37 0.37 0.35\\ 37.25 0.03 0.03\\ 37.5 0.32 0.3\\ 37.75 0.03 0.03\\
38 0.32 0.3\\ 38.25 0.02 0.02\\ 38.5 0.28 0.26\\ 38.75 0.02 0.02\\
39 0.3 0.28\\ 39.25 0.03 0.03\\ 39.5 0.26 0.24\\ 39.75 0.04 0.04\\
40 0.29 0.27\\ 40.25 0.05 0.05\\ 40.5 0.26 0.24\\ 40.75 0.06 0.06\\
41 0.32 0.3\\ 41.25 0.07 0.07\\ 41.5 0.28 0.26\\ 41.75 0.08 0.08\\
42 0.34 0.32\\ 42.25 0.1 0.1\\ 42.5 0.3 0.28\\ 42.75 0.1 0.1\\
43 0.4 0.38\\ 43.25 0.12 0.12\\ 43.5 0.34 0.32\\ 43.75 0.12 0.12\\
44 0.55 0.52\\ 44.25 0.12 0.12\\ 44.5 0.47 0.45\\ 44.75 0.1 0.1\\
45 0.52 0.5\\ 45.25 0.1 0.1\\ 45.5 0.47 0.45\\ 45.75 0.08 0.08\\
46 0.5 0.48\\ 46.25 0.03 0.05\\ 46.5 0.44 0.42\\ 46.75 0 0.04\\
47 0.53 0.5\\ 47.25 0 0.02\\ 47.5 0.42 0.4\\ 47.75 0 0.01\\
48 0.47 0.45\\ 48.25 0 0.01\\ 48.5 0.42 0.4\\ 48.75 0 0.01\\
49 0.53 0.55\\ 49.25 0 0.01\\ 49.5 0.44 0.42\\ 49.75 0 0.02\\
50 0.47 0.45\\ 50.25 0 0.03\\ 50.5 0.42 0.4\\ 50.75 0.04 0.04\\
51 0.44 0.42\\ 51.25 0.06 0.06\\ 51.5 0.38 0.36\\ 51.75 0.08 0.08\\
52 0.42 0.4\\ 52.25 0.1 0.1\\ 52.5 0.37 0.35\\ 52.75 0.1 0.1\\
53 0.38 0.36\\ 53.25 0.12 0.12\\ 53.5 0.34 0.32\\ 53.75 0.12 0.12\\
54 0.37 0.35\\ 54.25 0.13 0.13\\ 54.5 0.32 0.3\\ 54.75 0.12 0.12\\
55 0.35 0.33\\ 55.25 0.12 0.12\\ 55.5 0.32 0.3\\ 55.75 0.12 0.12\\
56 0.34 0.32\\ 56.25 0.12 0.12\\ 56.5 0.3 0.28\\ 56.75 0.11 0.11\\
57 0.27 0.25\\ 57.25 0.1 0.1\\ 57.5 0.25 0.23\\ 57.75 0.1 0.1\\
58 0.29 0.27\\ 58.25 0.08 0.08\\ 58.5 0.26 0.24\\ 58.75 0.08 0.08\\
59 0.3 0.28\\ 59.25 0.06 0.06\\ 59.5 0.27 0.25\\ 59.75 0.05 0.05\\
60 0.32 0.3\\ 60.25 0.05 0.05\\ 60.5 0.29 0.27\\ 60.75 0.06 0.06\\
61 0.32 0.3\\ 61.25 0.08 0.08\\ 61.5 0.28 0.26\\ 61.75 0.1 0.1\\
}\tabF

\pgfplotsset{
  panel/.style={
    scale only axis, width=342pt, height=60pt,
    anchor=north west,
    xmin=-0.42, xmax=61.76,
    xtick={0,10,20,30,40,50,61},
    xticklabels={,,,,,,},
    tick align=inside, major tick length=3pt,
    axis line style={black!75}, tick style={black!75},
    tick label style={font=\fs},
    yticklabel style={xshift=-1.5pt},
    label style={font=\fs},
    ylabel shift=-2.5pt,
    /pgf/number format/assume math mode=true,
    every axis plot/.append style={line width=0.45pt, line join=round},
    legend style={draw=none, fill=none, font=\fs, legend columns=-1,
      anchor=north east, inner sep=0pt,
      /tikz/every even column/.append style={column sep=3pt}},
  },
}

\begin{document}
\begin{tikzpicture}
\path[use as bounding box] (-43.85pt,15pt) rectangle (361.65pt,-529.5pt);

\begin{axis}[panel, name=pa, at={(0pt,0pt)},
  ymin=-1.2, ymax=1.2, ytick={-1,0,1}, ylabel={Tide (m)}]
\addplot[mblue] table[x=t, y=y] {\tabA};
\end{axis}
\node[font=\fs] at ([xshift=-18.35pt,yshift=5pt]pa.north west) {a)};

\begin{axis}[panel, name=pb, at={(0pt,-90pt)},
  ymin=0, ymax=25, ytick={0,10,20},
  ylabel={\itshape T\textsubscript{s} (s)},
  legend style={at={(0.992,0.96)}},
  legend image code/.code={\draw[#1] (0pt,0pt) -- (29pt,0pt);}]
\addplot[mred] table[x=t, y=S] {\tabB};
\addlegendentry{Shore}
\addplot[mgreen] table[x=t, y=R] {\tabB};
\addlegendentry{Reef}
\addplot[mblue] table[x=t, y=O] {\tabB};
\addlegendentry{Offshore}
\end{axis}
\node[font=\fs] at ([xshift=-18.35pt,yshift=5pt]pb.north west) {b)};

\begin{axis}[panel, name=pc, at={(0pt,-180pt)},
  ymin=0, ymax=4, ytick={0,2,4},
  ylabel={\itshape H\textsubscript{max} (m)}]
\addplot[mblue] table[x=t, y=O] {\tabC};
\addplot[mgreen] table[x=t, y=R] {\tabC};
\addplot[mred] table[x=t, y=S] {\tabC};
\end{axis}
\node[font=\fs] at ([xshift=-18.35pt,yshift=5pt]pc.north west) {c)};

\begin{axis}[panel, name=pd, at={(0pt,-270pt)},
  ymin=0, ymax=2.2, ytick={0,1,2},
  ylabel={\itshape H\textsubscript{ss} (m)}]
\addplot[mblue] table[x=t, y=O] {\tabD};
\addplot[mgreen] table[x=t, y=R] {\tabD};
\addplot[mred] table[x=t, y=S] {\tabD};
\end{axis}
\node[font=\fs] at ([xshift=-18.35pt,yshift=5pt]pd.north west) {d)};

\begin{axis}[panel, name=pe, at={(0pt,-360pt)},
  ymin=0, ymax=1, ytick={0,0.5,1},
  ylabel={\itshape H\textsubscript{ig} (m)},
  legend style={at={(1.001,0.975)}},
  legend image code/.code={\draw[#1] (0pt,0pt) -- (29pt,0pt);}]
\addplot[mred] table[x=t, y=S] {\tabE};
\addlegendentry{Shore}
\addplot[mgreen] table[x=t, y=R] {\tabE};
\addlegendentry{Reef}
\end{axis}
\node[font=\fs] at ([xshift=-18.35pt,yshift=5pt]pe.north west) {e)};

\begin{axis}[panel, name=pf, at={(0pt,-450pt)},
  ymin=0, ymax=1, ytick={0,0.5,1},
  xticklabels={05-Jun,15-Jun,25-Jun,05-Jul,15-Jul,25-Jul,05-Aug},
  xticklabel style={yshift=-2.5pt},
  ylabel={$\overline{\mbox{\itshape η}}$ \itshape (m)}]
\addplot[mred] table[x=t, y=S] {\tabF};
\addplot[mgreen] table[x=t, y=R] {\tabF};
\end{axis}
\node[font=\fs] at ([xshift=-18.35pt,yshift=5pt]pf.north west) {f)};
\end{tikzpicture}
\end{document}
